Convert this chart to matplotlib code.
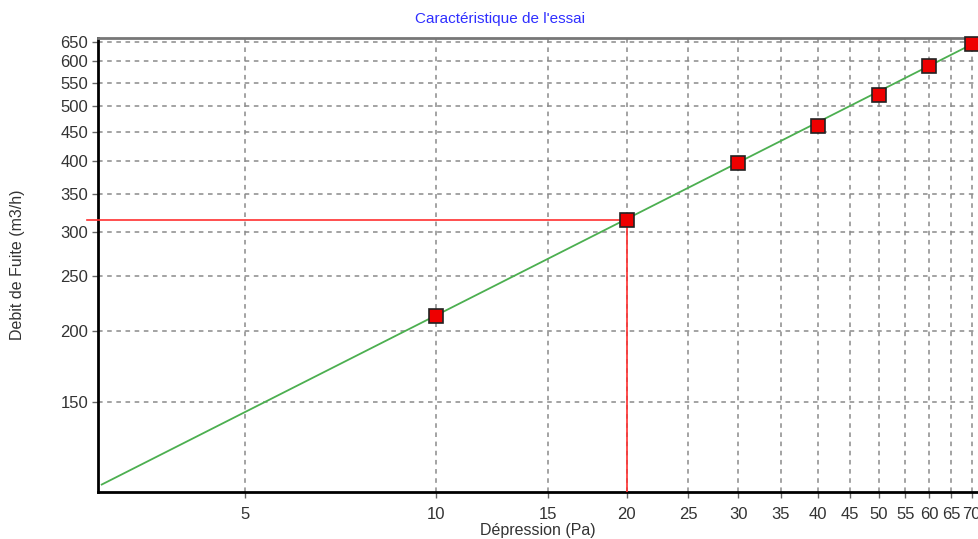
import matplotlib
matplotlib.use('Agg')
import matplotlib.pyplot as plt
from matplotlib.ticker import FixedLocator, NullLocator, FixedFormatter

# measured points
pressure = [10, 20, 30, 40, 50, 60, 70]
flow = [213, 314, 396, 462, 524, 590, 643]

# fitted characteristic (end points, straight on log-log)
fit_x = [2.97, 70]
fit_y = [107, 643]

# reading at reference pressure
ref_x = 20
ref_y = 314

x_ticks = [5, 10, 15, 20, 25, 30, 35, 40, 45, 50, 55, 60, 65, 70]
y_ticks = [150, 200, 250, 300, 350, 400, 450, 500, 550, 600, 650]

X_LIM = (2.93, 71.9)
Y_LIM = (103.8, 660)


def main():
    plt.rcParams['font.family'] = ['Liberation Sans', 'DejaVu Sans']
    fig = plt.figure(figsize=(9.79, 5.39), dpi=100)
    ax = fig.add_axes([98 / 979, 1 - 492 / 539, (979 - 98) / 979, (492 - 38) / 539])

    ax.set_xscale('log')
    ax.set_yscale('log')
    ax.set_xlim(*X_LIM)
    ax.set_ylim(*Y_LIM)

    ax.xaxis.set_major_locator(FixedLocator(x_ticks))
    ax.xaxis.set_major_formatter(FixedFormatter([str(v) for v in x_ticks]))
    ax.xaxis.set_minor_locator(NullLocator())
    ax.yaxis.set_major_locator(FixedLocator(y_ticks))
    ax.yaxis.set_major_formatter(FixedFormatter([str(v) for v in y_ticks]))
    ax.yaxis.set_minor_locator(NullLocator())

    ax.grid(True, color='#8a8a8a', linestyle=(0, (3, 3)), linewidth=1.1)
    ax.tick_params(axis='both', labelsize=12, color='#666666', length=4,
                   width=1, labelcolor='#333333')
    ax.tick_params(axis='x', pad=7)
    ax.tick_params(axis='y', pad=3)

    for side in ['left', 'bottom']:
        ax.spines[side].set_color('black')
        ax.spines[side].set_linewidth(2)
    ax.spines['top'].set_color('#777777')
    ax.spines['top'].set_linewidth(2)
    ax.spines['right'].set_visible(False)

    # red guide lines
    ax.plot([X_LIM[0] * 0.96, ref_x], [ref_y, ref_y], color='#ff3030',
            linewidth=1.2, clip_on=False, zorder=3)
    ax.plot([ref_x, ref_x], [ref_y, Y_LIM[0]], color='#ff3030',
            linewidth=1.2, zorder=3)

    ax.plot(fit_x, fit_y, color='#4caf50', linewidth=1.3, zorder=4)
    ax.plot(pressure, flow, linestyle='none', marker='s', markersize=9.5,
            markerfacecolor='#ee0000', markeredgecolor='#222222',
            markeredgewidth=1.2, zorder=5, clip_on=False)

    fig.text(0.511, 1 - 19 / 539, "Caractéristique de l'essai", color='#2f2fff',
             fontsize=11, ha='center', va='center')
    fig.text(0.549, 1 - 531 / 539, 'Dépression (Pa)', color='#333333',
             fontsize=11.5, ha='center', va='center')
    fig.text(18 / 979, 1 - 265 / 539, 'Debit de Fuite (m3/h)', color='#333333',
             fontsize=11.5, ha='center', va='center', rotation=90)

    fig.savefig('out.png', dpi=100)


if __name__ == '__main__':
    main()
